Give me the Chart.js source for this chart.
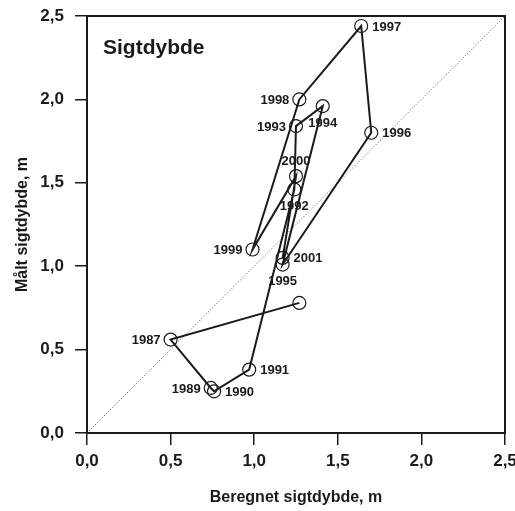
<!DOCTYPE html>
<html>
<head>
<meta charset="utf-8">
<script src="https://cdn.jsdelivr.net/npm/chart.js@4"></script>
<style>
  html, body { margin: 0; padding: 0; background: #fff; }
  #wrap { width: 515px; height: 511px; }
</style>
</head>
<body>
<div id="wrap"><canvas id="sigtChart" width="515" height="511"></canvas></div>
<script>
const years = ['', '1987', '1989', '1990', '1991', '1992', '1993', '1994', '1995', '1996', '1997', '1998', '1999', '2000', '2001'];
const beregnet = [1.27, 0.50, 0.74, 0.76, 0.97, 1.24, 1.25, 1.41, 1.17, 1.70, 1.64, 1.27, 0.99, 1.25, 1.17];
const maalt = [0.78, 0.56, 0.27, 0.25, 0.38, 1.46, 1.84, 1.96, 1.01, 1.80, 2.44, 2.00, 1.10, 1.54, 1.05];
const diagonal = [0, 2.5];
const tickValues = [0, 0.5, 1.0, 1.5, 2.0, 2.5];

// where each year label sits relative to its point
const labelSide = ['none', 'left', 'left', 'right', 'right', 'below', 'left', 'below', 'below', 'right', 'right', 'left', 'left', 'above', 'right'];

const ink = '#1a1a1a';
const fontFamily = '"Liberation Sans", Arial, Helvetica, sans-serif';

const points = beregnet.map((x, i) => ({ x, y: maalt[i] }));

// Year labels next to the points
const yearLabels = {
    id: 'yearLabels',
    afterDatasetsDraw(chart) {
        const c = chart.ctx;
        const xs = chart.scales.x, ys = chart.scales.y;
        c.save();
        c.fillStyle = ink;
        c.font = 'bold 13px ' + fontFamily;
        c.textBaseline = 'middle';
        points.forEach((p, i) => {
            const side = labelSide[i];
            if (side === 'none' || !years[i]) return;
            const px = xs.getPixelForValue(p.x);
            const py = ys.getPixelForValue(p.y);
            if (side === 'left') { c.textAlign = 'right'; c.fillText(years[i], px - 10, py + 1); }
            else if (side === 'right') { c.textAlign = 'left'; c.fillText(years[i], px + 11, py + 1); }
            else if (side === 'below') { c.textAlign = 'center'; c.fillText(years[i], px, py + 17); }
            else { c.textAlign = 'center'; c.fillText(years[i], px, py - 15); }
        });
        c.restore();
    }
};

// Box round the plot and the panel title
const frame = {
    id: 'frame',
    afterDraw(chart) {
        const a = chart.chartArea;
        const c = chart.ctx;
        c.save();
        c.strokeStyle = ink;
        c.lineWidth = 2;
        c.strokeRect(a.left, a.top, a.right - a.left, a.bottom - a.top);
        c.fillStyle = ink;
        c.font = 'bold 21px ' + fontFamily;
        c.textAlign = 'left';
        c.textBaseline = 'middle';
        c.fillText('Sigtdybde', a.left + 16, a.top + 32);
        c.restore();
    }
};

const ctx = document.getElementById('sigtChart').getContext('2d');

new Chart(ctx, {
    type: 'scatter',
    data: {
        datasets: [
            {
                data: points,
                showLine: true,
                borderColor: ink,
                borderWidth: 2,
                pointRadius: 6.5,
                pointBorderWidth: 1.2,
                pointBorderColor: ink,
                pointBackgroundColor: 'rgba(0,0,0,0)',
                tension: 0
            },
            {
                data: diagonal.map(v => ({ x: v, y: v })),
                showLine: true,
                borderColor: '#555',
                borderWidth: 1,
                borderDash: [1, 2],
                pointRadius: 0
            }
        ]
    },
    options: {
        responsive: false,
        animation: false,
        layout: { padding: { top: 16, right: 10, left: 0, bottom: 0 } },
        plugins: {
            legend: { display: false },
            tooltip: { enabled: false }
        },
        scales: {
            x: {
                type: 'linear',
                min: 0,
                max: 2.5,
                afterBuildTicks: s => { s.ticks = tickValues.map(v => ({ value: v })); },
                afterFit: s => { s.height = 78; s.paddingLeft = 0; s.paddingRight = 0; },
                grid: { drawOnChartArea: false, drawTicks: true, tickLength: 12, color: ink, lineWidth: 1.5 },
                border: { display: true, color: ink, width: 2 },
                ticks: {
                    color: ink,
                    padding: 6,
                    maxRotation: 0,
                    font: { family: fontFamily, size: 17, weight: 'bold' },
                    callback: v => v.toFixed(1).replace('.', ',')
                },
                title: {
                    display: true,
                    text: 'Beregnet sigtdybde, m',
                    color: ink,
                    font: { family: fontFamily, size: 16, weight: 'bold' },
                    padding: { top: 0, bottom: 4 }
                }
            },
            y: {
                type: 'linear',
                min: 0,
                max: 2.5,
                afterBuildTicks: s => { s.ticks = tickValues.map(v => ({ value: v })); },
                afterFit: s => { s.width = 87; s.paddingTop = 0; s.paddingBottom = 0; },
                grid: { drawOnChartArea: false, drawTicks: true, tickLength: 12, color: ink, lineWidth: 1.5 },
                border: { display: true, color: ink, width: 2 },
                ticks: {
                    color: ink,
                    padding: 11,
                    font: { family: fontFamily, size: 17, weight: 'bold' },
                    callback: v => v.toFixed(1).replace('.', ',')
                },
                title: {
                    display: true,
                    text: 'Målt sigtdybde, m',
                    color: ink,
                    font: { family: fontFamily, size: 16, weight: 'bold' },
                    padding: { top: 13, bottom: 0 }
                }
            }
        }
    },
    plugins: [yearLabels, frame]
});
</script>
</body>
</html>
